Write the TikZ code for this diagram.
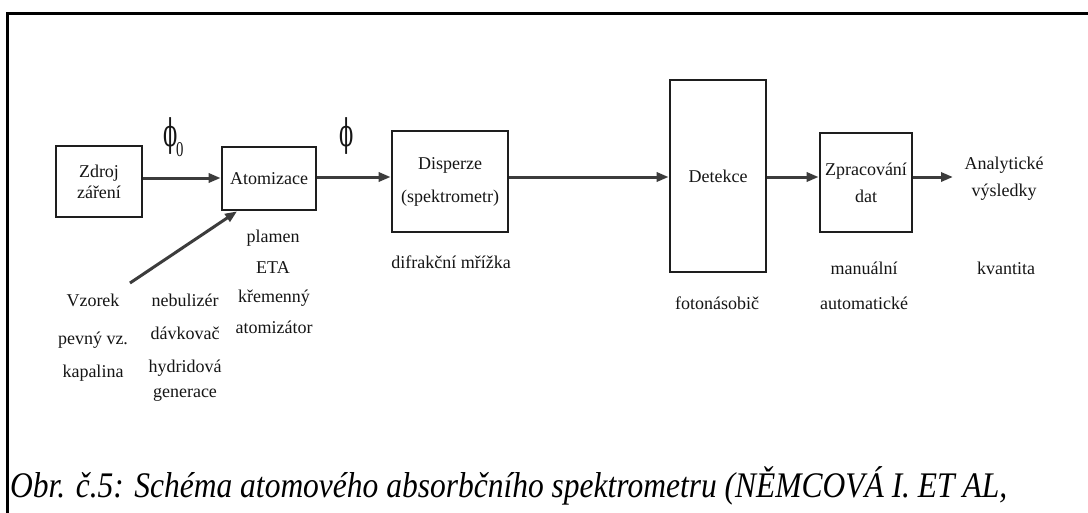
\documentclass[tikz,border=0pt]{standalone}
\usepackage{fontspec}
\setmainfont{Liberation Serif}
\newfontfamily\phifont{DejaVu Serif}
\usetikzlibrary{arrows.meta,calc}
\definecolor{boxline}{HTML}{1E1E1E}
\definecolor{arrowc}{HTML}{3C3C3C}
\definecolor{txt}{HTML}{151515}
\tikzset{
  blk/.style={draw=boxline, line width=2.6pt, inner sep=0pt, align=center, text=txt,
              font=\fontsize{18}{22}\selectfont},
  lbl/.style={inner sep=0pt, align=center, text=txt, font=\fontsize{18}{22}\selectfont},
  conn/.style={draw=arrowc, line width=3pt, -{Triangle[length=12pt,width=9pt]}},
  phis/.style={inner sep=0pt, text=txt}
}
\begin{document}
\begin{tikzpicture}[x=1pt,y=-1pt]
\useasboundingbox (0,0) rectangle (1088,512);
\fill[white] (0,0) rectangle (1088,512);
% frame
\draw[black, line width=3.5pt] (1090,13.5) -- (7.5,13.5) -- (7.5,514);
% boxes
\node[blk, minimum width=86pt, minimum height=71pt] (zdroj) at (99,181.5) {Zdroj\\[-1pt]záření};
\node[blk, minimum width=94pt, minimum height=63pt] (atom) at (269,178.5) {Atomizace};
\node[blk, minimum width=116pt, minimum height=101pt] (disp) at (450,181.5) {Disperze\\[11pt](spektrometr)};
\node[blk, minimum width=96pt, minimum height=192pt] (det) at (718,176) {Detekce};
\node[blk, minimum width=92pt, minimum height=99pt] (zprac) at (866,182.5) {Zpracování\\[5pt]dat};
% phi labels
\node[phis] (phi0) at (171,136) {\scalebox{0.55}[1]{\phifont\fontsize{38}{40}\selectfont ϕ}};
\node[phis, anchor=west] (sub0) at (176,150) {\scalebox{0.7}[1]{\fontsize{21}{22}\selectfont 0}};
\node[phis] (phi1) at (347,136) {\scalebox{0.55}[1]{\phifont\fontsize{38}{40}\selectfont ϕ}};
% output label
\node[lbl] (res) at (1004,179) {Analytické\\[5pt]výsledky};
\coordinate (out) at (953,177);
\coordinate (vzs) at (130,283);
% connectors
\draw[conn] (zdroj.east |- 0,178) -- (atom.west |- 0,178);
\draw[conn] (atom.east |- 0,177) -- (disp.west |- 0,177);
\draw[conn] (disp.east |- 0,177) -- (det.west |- 0,177);
\draw[conn] (det.east |- 0,177) -- (zprac.west |- 0,177);
\draw[conn] (zprac.east |- 0,177) -- (out);
\draw[conn] (vzs) -- ($(atom.south west)!0.17!(atom.south east)$);
% labels below
\node[lbl] (pl) at (273,238) {plamen};
\node[lbl] (eta) at (273,268) {ETA};
\node[lbl] (krem) at (274,298) {křemenný};
\node[lbl] (atz) at (274,327) {atomizátor};
\node[lbl] (difr) at (451,262) {difrakční mřížka};
\node[lbl] (foto) at (717,303) {fotonásobič};
\node[lbl] (man) at (864,268) {manuální};
\node[lbl] (auto) at (864,303) {automatické};
\node[lbl] (kv) at (1006,268) {kvantita};
\node[lbl] (vz1) at (93,300) {Vzorek};
\node[lbl] (vz2) at (93,340) {pevný vz.};
\node[lbl] (vz3) at (93,373) {kapalina};
\node[lbl] (nb1) at (185,300) {nebulizér};
\node[lbl] (nb2) at (185,333) {dávkovač};
\node[lbl] (nb3) at (185,368) {hydridová};
\node[lbl] (nb4) at (185,395) {generace};
% caption
\node[inner sep=0pt, anchor=base west, text=black] (cap) at (10,497)
  {\scalebox{0.875}[1]{\fontsize{36}{38}\selectfont\itshape Obr. č.5: Schéma atomového absorbčního spektrometru (NĚMCOVÁ I. ET AL,}};
\end{tikzpicture}
\end{document}
